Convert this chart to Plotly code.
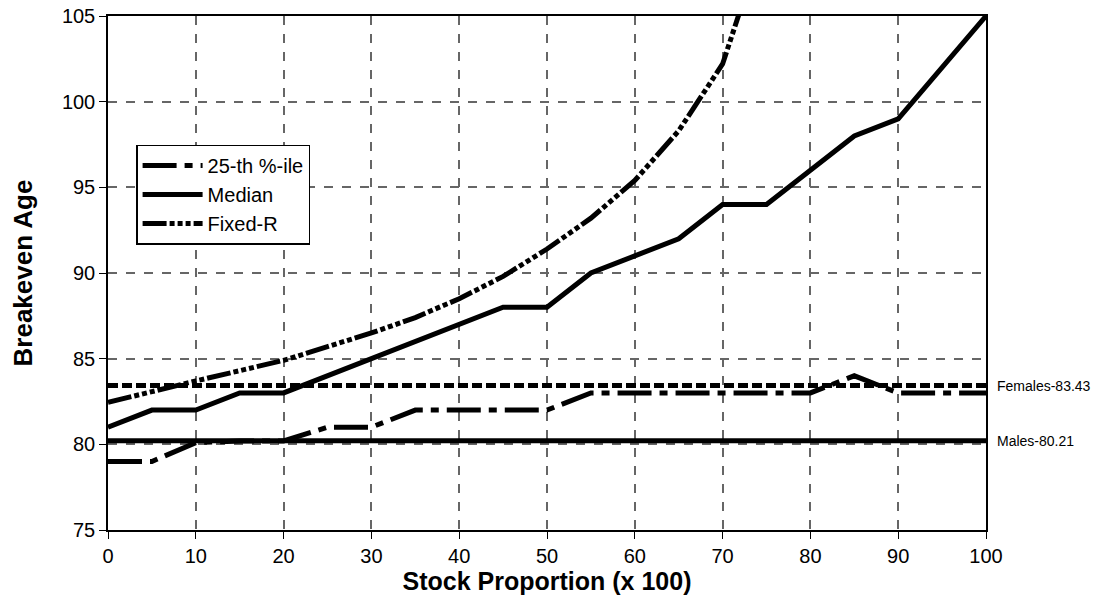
import plotly.graph_objects as go

stock = [0, 5, 10, 15, 20, 25, 30, 35, 40, 45, 50, 55, 60, 65, 70, 75, 80, 85, 90, 95, 100]
pct25 = [79, 79, 80.1, 80.2, 80.2, 81, 81, 82, 82, 82, 82, 83, 83, 83, 83, 83, 83, 84, 83, 83, 83]
median = [81, 82, 82, 83, 83, 84, 85, 86, 87, 88, 88, 90, 91, 92, 94, 94, 96, 98, 99, 102, 105]
fixed_r = [82.45, 83.1, 83.7, 84.3, 84.9, 85.7, 86.5, 87.4, 88.5, 89.8, 91.4, 93.2, 95.4, 98.3, 102.2, 110]
fixed_r_x = stock[:len(fixed_r)]
females = 83.43
males = 80.21
ref_x = [0, 100]

FONT = "Liberation Sans, Arial, sans-serif"

fig = go.Figure()
fig.add_trace(go.Scatter(x=ref_x, y=[females, females], mode="lines", showlegend=False,
                         line=dict(color="black", width=5, dash="10px,4px"), hoverinfo="skip"))
fig.add_trace(go.Scatter(x=ref_x, y=[males, males], mode="lines", showlegend=False,
                         line=dict(color="black", width=5), hoverinfo="skip"))
fig.add_trace(go.Scatter(x=stock, y=pct25, mode="lines", name="25-th %-ile",
                         line=dict(color="black", width=5, dash="34px,8px,8px,8px")))
fig.add_trace(go.Scatter(x=stock, y=median, mode="lines", name="Median",
                         line=dict(color="black", width=5)))
fig.add_trace(go.Scatter(x=fixed_r_x, y=fixed_r, mode="lines", name="Fixed-R",
                         line=dict(color="black", width=5,
                                   dash="24px,3px,5px,3px,5px,3px,5px,3px")))

for val, label in [(females, "Females-83.43"), (males, "Males-80.21")]:
    fig.add_annotation(x=1, xref="paper", y=val, yref="y", text=label,
                       showarrow=False, xanchor="left", xshift=9,
                       font=dict(size=14, color="black", family=FONT))

grid = dict(showgrid=True, gridcolor="#666666", griddash="dash", gridwidth=1.5)
fig.update_xaxes(range=[0, 100], dtick=10, tick0=0, ticks="outside", ticklen=7,
                 tickcolor="black", showline=True, linecolor="black", linewidth=1.5,
                 mirror=True, zeroline=False, ticklabeloverflow="allow", automargin=False,
                 tickfont=dict(size=20, color="black"),
                 title=dict(text="<b>Stock Proportion (x 100)</b>", font=dict(size=25, color="black"),
                            standoff=4),
                 **grid)
fig.update_yaxes(range=[75, 105], dtick=5, tick0=75, ticks="outside", ticklen=7,
                 tickcolor="black", showline=True, linecolor="black", linewidth=1.5,
                 mirror=True, zeroline=False, ticklabeloverflow="allow", automargin=False,
                 tickfont=dict(size=20, color="black"),
                 title=dict(text="<b>Breakeven Age</b>", font=dict(size=26, color="black"),
                            standoff=22),
                 **grid)

fig.update_layout(
    width=1101, height=605,
    margin=dict(l=108, r=115, t=16, b=75, autoexpand=False),
    paper_bgcolor="white", plot_bgcolor="white",
    font=dict(family=FONT, color="black"),
    legend=dict(x=0.032, y=0.75, xanchor="left", yanchor="top",
                bgcolor="white", bordercolor="black", borderwidth=1.5,
                font=dict(size=20, color="black"), itemwidth=60,
                tracegroupgap=0),
    showlegend=True,
)

fig.write_html("out.html", config={"displayModeBar": False},
               post_script="document.body.style.margin='0';document.body.style.overflow='hidden';")
